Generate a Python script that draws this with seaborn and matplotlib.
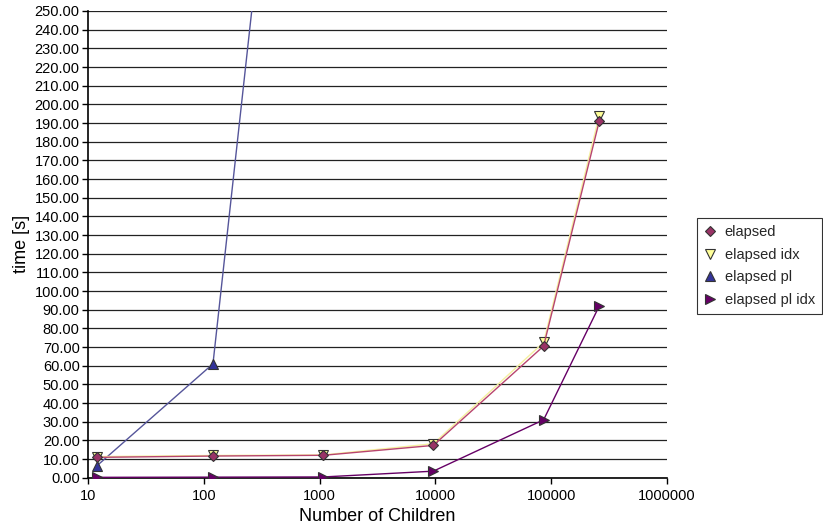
import matplotlib
matplotlib.use("Agg")
import matplotlib.pyplot as plt
import matplotlib.ticker as mticker
from matplotlib.lines import Line2D
import seaborn as sns
import pandas as pd

children = [12, 120, 1080, 9600, 86000, 260000]
elapsed = [10.9, 11.6, 12.0, 17.3, 70.5, 191.0]
elapsed_idx = [11.3, 11.9, 12.2, 18.2, 72.5, 194.0]
children_pl = [12, 120, 1080]
elapsed_pl = [6.5, 61.0, 600.0]
elapsed_pl_idx = [0.2, 0.3, 0.4, 3.5, 31.0, 92.0]

x_ticks = [10, 100, 1000, 10000, 100000, 1000000]
y_ticks = list(range(0, 251, 10))

sns.set_theme(style="white")
plt.rcParams['font.family'] = ['Liberation Sans', 'DejaVu Sans']

fig = plt.figure(figsize=(8.23, 5.31), dpi=100)
ax = fig.add_axes([88/823, 1-477.7/531, (667-88)/823, (477.7-11)/531])
ax.set_xscale('log')

series = [
    ("elapsed", children, elapsed, "D", "#B8456E", "#993366", 5, 4),
    ("elapsed idx", children, elapsed_idx, "v", "#F5F0A0", "#FFFF99", 7, 3),
    ("elapsed pl", children_pl, elapsed_pl, "^", "#55559A", "#333399", 7, 2),
    ("elapsed pl idx", children, elapsed_pl_idx, ">", "#660066", "#660066", 7, 5),
]

for name, xs, ys, mk, lc, fc, ms, z in series:
    df = pd.DataFrame({"x": xs, "y": ys})
    sns.lineplot(data=df, x="x", y="y", ax=ax, color=lc, lw=1.0,
                 marker=mk, markersize=ms, markerfacecolor=fc,
                 markeredgecolor="#333333", markeredgewidth=0.8,
                 zorder=z, sort=True, estimator=None)

ax.set_xlim(10, 1000000)
ax.set_ylim(0, 250)
ax.xaxis.set_major_locator(mticker.FixedLocator(x_ticks))
ax.xaxis.set_minor_locator(mticker.NullLocator())
ax.xaxis.set_major_formatter(mticker.FuncFormatter(lambda v, p: f"{int(round(v))}"))
ax.yaxis.set_major_locator(mticker.FixedLocator(y_ticks))
ax.yaxis.set_major_formatter(mticker.FuncFormatter(lambda v, p: f"{v:.2f}"))

ax.grid(True, axis='y', color='#222222', lw=0.9)
ax.grid(False, axis='x')
ax.set_axisbelow(True)
for s in ['top', 'right']:
    ax.spines[s].set_visible(False)
for s in ['left', 'bottom']:
    ax.spines[s].set_color('black')
    ax.spines[s].set_linewidth(1.2)

ax.tick_params(axis='both', which='major', direction='out', length=4, width=1,
               color='black', labelsize=10.5, labelcolor='black', pad=2,
               bottom=True, left=True)
ax.tick_params(axis='x', pad=4)

ax.set_xlabel("Number of Children", fontsize=13, color='black', labelpad=4)
ax.set_ylabel("time [s]", fontsize=13, color='black', labelpad=3)

handles = [Line2D([], [], linestyle='none', marker=mk, markersize=ms,
                  markerfacecolor=fc, markeredgecolor="#333333", markeredgewidth=0.8)
           for name, xs, ys, mk, lc, fc, ms, z in series]
labels = [s[0] for s in series]
leg = fig.legend(handles, labels, loc='center left',
                 bbox_to_anchor=(697/823, 1-266/531), frameon=True,
                 fancybox=False, edgecolor='black', fontsize=10.5,
                 handlelength=0.8, handletextpad=0.6, borderpad=0.5,
                 labelspacing=0.6, borderaxespad=0)
leg.get_frame().set_linewidth(0.8)

fig.savefig("out.png", dpi=100)
